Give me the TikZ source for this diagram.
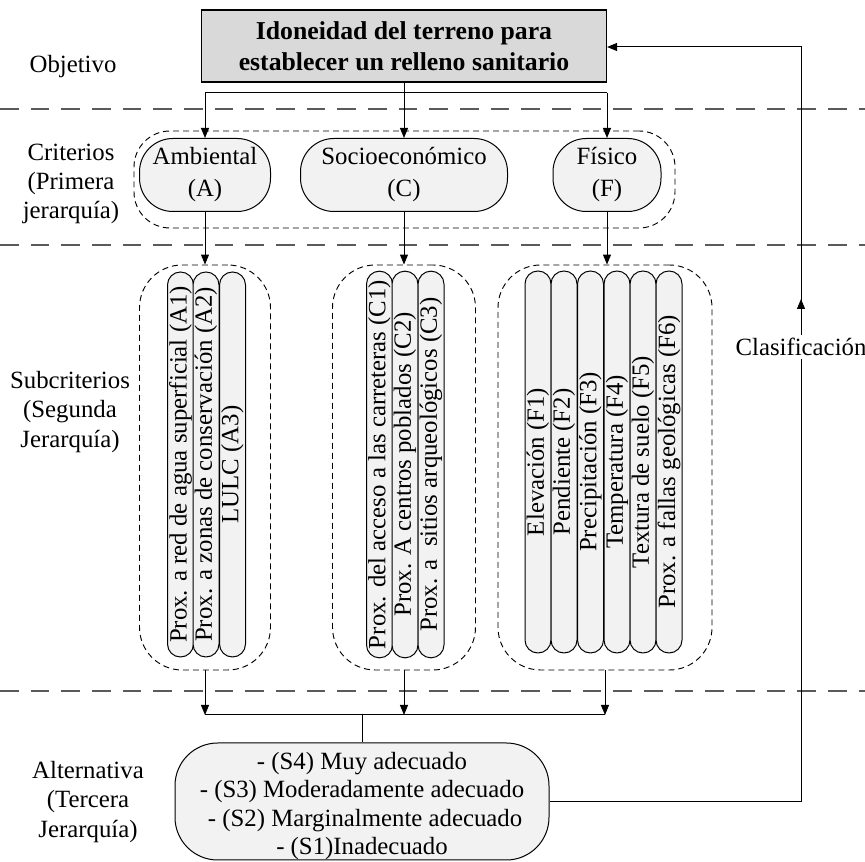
\documentclass[tikz,border=0pt]{standalone}
\usepackage{fontspec}
\setmainfont{Liberation Serif}
\usetikzlibrary{arrows.meta}
\definecolor{lightfill}{RGB}{242,242,242}
\definecolor{goalfill}{RGB}{217,217,217}
\definecolor{sepgray}{RGB}{90,90,90}
\newcommand\txtreg{\fontsize{18.6}{22}\selectfont}
\newcommand\txtalt{\fontsize{18.6}{21.2}\selectfont}
\newcommand\txtcrit{\fontsize{18.6}{24}\selectfont}
\newcommand\txtgoal{\fontsize{19.3}{23.5}\selectfont\bfseries}
\begin{document}
\begin{tikzpicture}[x=0.75pt,y=-0.75pt,
  lbl/.style={font=\txtreg, align=center, inner sep=0pt},
  goalbox/.style={draw, line width=0.9pt, fill=goalfill, font=\txtgoal, align=center,
    minimum width=303.75pt, minimum height=54pt, inner sep=0pt},
  crit/.style={draw, line width=0.75pt, fill=lightfill, rounded corners=25pt, font=\txtcrit,
    align=center, minimum height=54.75pt, inner sep=0pt},
  pill/.style={draw, line width=0.75pt, fill=lightfill, rounded corners=9.7pt, rotate=90,
    minimum height=19.5pt, inner sep=0pt, font=\txtreg},
  grp/.style={draw, line width=0.7pt, dash pattern=on 4.5pt off 3pt, rounded corners=32pt,
    inner sep=0pt},
  sep/.style={draw=sepgray, line width=1.4pt, dash pattern=on 14pt off 9pt},
  conn/.style={draw, line width=0.75pt},
  arr/.style={conn, -{Triangle[length=7.5pt,width=6pt]}}]
\useasboundingbox (0,0) rectangle (865,862);

% separators
\draw[sep] (0,109) -- (865,109);
\draw[sep] (0,245) -- (865,245);
\draw[sep] (0,691) -- (865,691);

% left labels
\node[lbl] (lObj) at (73,67) {Objetivo};
\node[lbl] (lCrit) at (71,184) {Criterios\\(Primera\\jerarquía)};
\node[lbl] (lSub) at (70,412) {Subcriterios\\(Segunda\\Jerarquía)};
\node[lbl] (lAlt) at (88,802) {Alternativa\\(Tercera\\Jerarquía)};

% goal
\node[goalbox] (goal) at (404,46) {Idoneidad del terreno para\\establecer un relleno sanitario};

% criteria
\node[grp, rounded corners=27pt, minimum width=405.75pt, minimum height=72.75pt] (gCrit) at (404.5,179.5) {};
\node[crit, minimum width=98.25pt] (amb) at (205,175) {Ambiental\\(A)};
\node[crit, minimum width=155.25pt] (soc) at (404,175) {Socioeconómico\\(C)};
\node[crit, minimum width=81pt] (fis) at (607,175) {Físico\\(F)};

% subcriteria groups
\node[grp, minimum width=98.25pt, minimum height=303.75pt] (gA) at (205,467.5) {};
\node[grp, minimum width=107.25pt, minimum height=303.75pt] (gC) at (404,467.5) {};
\node[grp, minimum width=160.5pt, minimum height=303.75pt] (gF) at (605,467.5) {};

% pills A
\node[pill, minimum width=288.75pt] (a1) at (180.5,464.5) {Prox. a red de agua superficial (A1)};
\node[pill, minimum width=288.75pt] (a2) at (206,464.5) {Prox. a zonas de conservación (A2)};
\node[pill, minimum width=288.75pt] (a3) at (232.5,464.5) {LULC (A3)};
% pills C
\node[pill, minimum width=290pt] (c1) at (379.5,464.5) {Prox. del acceso a las carreteras (C1)};
\node[pill, minimum width=290pt] (c2) at (405,464.5) {Prox. A centros poblados (C2)};
\node[pill, minimum width=290pt] (c3) at (431,464.5) {Prox. a \ sitios arqueológicos (C3)};
% pills F
\node[pill, minimum width=286.5pt] (f1) at (538,462) {Elevación (F1)};
\node[pill, minimum width=286.5pt] (f2) at (564,462) {Pendiente (F2)};
\node[pill, minimum width=286.5pt] (f3) at (590.5,462) {Precipitación (F3)};
\node[pill, minimum width=286.5pt] (f4) at (617,462) {Temperatura (F4)};
\node[pill, minimum width=286.5pt] (f5) at (643,462) {Textura de suelo (F5)};
\node[pill, minimum width=286.5pt] (f6) at (669,462) {Prox. a fallas geológicas (F6)};

% alternatives
\node[crit, rounded corners=32pt, minimum width=280.5pt, minimum height=87.75pt] (alt) at (362,801.5) {};
\node[lbl, font=\txtalt] (altText) at (362,806)
  {- (S4) Muy adecuado\\- (S3) Moderadamente adecuado\\\ - (S2) Marginalmente adecuado\\- (S1)Inadecuado};

% connectors top
\coordinate (b1) at (404,93);
\draw[arr] (goal.south) -- (goal.south |- soc.north);
\draw[conn] (amb.north |- b1) -- (fis.north |- b1);
\draw[arr] (amb.north |- b1) -- (amb.north);
\draw[arr] (fis.north |- b1) -- (fis.north);

% criteria to groups
\draw[arr] (amb.south) -- (amb.south |- gA.north);
\draw[arr] (soc.south) -- (soc.south |- gC.north);
\draw[arr] (fis.south) -- (fis.south |- gF.north);

% groups to alternatives
\coordinate (b2) at (362,715);
\draw[arr] (gA.south) -- (gA.south |- b2);
\draw[arr] (gC.south) -- (gC.south |- b2);
\draw[arr] (gF.south) -- (gF.south |- b2);
\draw[conn] (gA.south |- b2) -- (gF.south |- b2);
\draw[conn] (b2) -- (alt.north);

% feedback
\coordinate (r) at (801,47);
\draw[arr] (alt.east) -| (r) -- (r -| goal.east);
\coordinate (m1) at (801,330);
\coordinate (m2) at (801,299);
\draw[arr] (m1) -- (m2);
\node[lbl, fill=white, inner sep=2pt] (clas) at (801,347) {Clasificación};
\end{tikzpicture}
\end{document}
